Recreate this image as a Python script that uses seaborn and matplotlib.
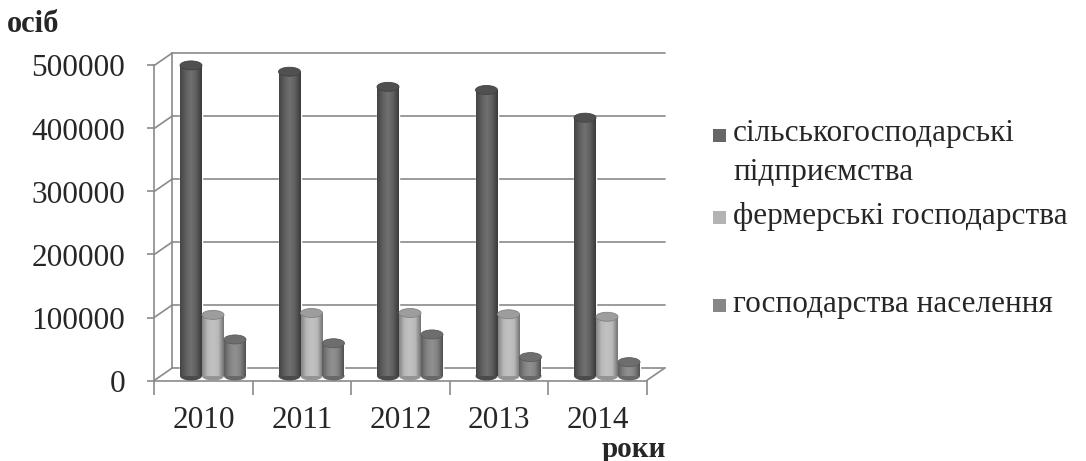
#!/usr/bin/env python3
"""
3D-style clustered column chart: workers by type of farm, 2010-2014
"""

import matplotlib
matplotlib.use("Agg")
import matplotlib.pyplot as plt
import seaborn as sns
import numpy as np
import pandas as pd
from matplotlib.patches import Ellipse, Rectangle
from matplotlib.colors import LinearSegmentedColormap, to_rgb

# data
years = ['2010', '2011', '2012', '2013', '2014']
series = ['сільськогосподарські\nпідприємства', 'фермерські господарства', 'господарства населення']
agri_enterprises = [493000, 483000, 459000, 454000, 410000]
farms = [97000, 100000, 100000, 98000, 94000]
households = [58000, 52000, 66000, 30000, 22000]
y_ticks = [0, 100000, 200000, 300000, 400000, 500000]
colors = ['#5e5e5e', '#b9b9b9', '#828282']
legend_colors = ['#666666', '#b3b3b3', '#878787']

sns.set_style("white")
plt.rcParams['font.family'] = ['Liberation Serif', 'DejaVu Serif']

df = pd.DataFrame({
    'year': years * 3,
    'type': [s for s in series for _ in years],
    'value': agri_enterprises + farms + households,
})

W, H = 1086, 461
fig = plt.figure(figsize=(W / 100, H / 100), dpi=100)

# axes box in pixels (left, top, right, bottom) and pixel scale of the bar plane
box = (140, 40, 680, 400)
x0_px, base_px = 213.0, 376.0        # centre of first group, floor of bars
px_per_cat, px_per_val = 98.5, 63.0 / 100000
ax = fig.add_axes([box[0] / W, 1 - box[3] / H, (box[2] - box[0]) / W, (box[3] - box[1]) / H])

sns.barplot(data=df, x='year', y='value', hue='type', palette=colors,
            width=0.67, gap=0, saturation=1, legend=False, ax=ax, zorder=3)

ax.set_xlim((box[0] - x0_px) / px_per_cat, (box[2] - x0_px) / px_per_cat)
ax.set_ylim((base_px - box[3]) / px_per_val, (base_px - box[1]) / px_per_val)


def dx(px):
    return px / px_per_cat


def dy(px):
    return px / px_per_val


# 3D frame: front plane and back wall offsets relative to the bar plane
front_dx, front_dy = dx(-9.6), dy(-4.5)
back_dx, back_dy = dx(8.5), dy(8.0)
n = len(years)
grid_kw = dict(color='#8a8a8a', lw=1.2, clip_on=False, zorder=1)

xl_back, xr_back = -0.5 + back_dx, n - 0.5 + back_dx
xl_front, xr_front = -0.5 + front_dx, n - 0.5 + front_dx
for g in y_ticks:
    ax.plot([xl_back, xr_back], [g + back_dy, g + back_dy], **grid_kw)
    ax.plot([xl_front, xl_back], [g + front_dy, g + back_dy], **grid_kw)
ax.plot([xl_back, xl_back], [back_dy, y_ticks[-1] + back_dy], **grid_kw)
ax.plot([xr_front, xr_back], [front_dy, back_dy], **grid_kw)

# front axes through spines
for s in ['top', 'right']:
    ax.spines[s].set_visible(False)
ax.spines['left'].set_position(('data', xl_front))
ax.spines['left'].set_bounds(y_ticks[0] + front_dy, y_ticks[-1] + front_dy)
ax.spines['bottom'].set_position(('data', front_dy))
ax.spines['bottom'].set_bounds(xl_front, xr_front)
for s in ['left', 'bottom']:
    ax.spines[s].set_color('#8a8a8a')
    ax.spines[s].set_linewidth(1.2)

ax.set_yticks([g + front_dy for g in y_ticks], [str(g) for g in y_ticks])
ax.tick_params(axis='y', direction='out', length=5, width=1.2, color='#8a8a8a',
               labelsize=22.5, pad=16, left=True)
ax.set_xticks([i + front_dx for i in range(n)], years)
ax.set_xticks([i - 0.5 + front_dx for i in range(n + 1)], minor=True)
ax.tick_params(axis='x', which='major', length=0, labelsize=22.5, pad=18)
ax.tick_params(axis='x', which='minor', direction='out', length=10, width=1.2,
               color='#8a8a8a', bottom=True)
ax.set_xlabel('')
ax.set_ylabel('')


# cylinder shading
def shade(c, k):
    c = np.array(to_rgb(c))
    return tuple(c * k) if k < 1 else tuple(c + (1 - c) * (k - 1))


cap_h = dy(9)
for bar in list(ax.patches):
    if not isinstance(bar, Rectangle) or bar.get_height() <= 0:
        continue
    c = bar.get_facecolor()
    x, w, h = bar.get_x(), bar.get_width(), bar.get_height()
    cmap = LinearSegmentedColormap.from_list(
        'cyl', [shade(c, 0.72), shade(c, 1.0), shade(c, 1.12), shade(c, 1.0), shade(c, 0.62)])
    grad = np.linspace(0, 1, 64).reshape(1, -1)
    im = ax.imshow(grad, cmap=cmap, aspect='auto', extent=[x, x + w, 0, h],
                   zorder=4, interpolation='bicubic')
    im.set_clip_path(bar)
    ax.add_patch(Ellipse((x + w / 2, 0), w, cap_h, facecolor=shade(c, 0.8),
                         edgecolor='none', zorder=3.5))
    ax.add_patch(Ellipse((x + w / 2, h), w, cap_h, facecolor=shade(c, 0.85),
                         edgecolor=shade(c, 0.7), lw=0.6, zorder=5))

ax.set_xlim((box[0] - x0_px) / px_per_cat, (box[2] - x0_px) / px_per_cat)
ax.set_ylim((base_px - box[3]) / px_per_val, (base_px - box[1]) / px_per_val)

# axis titles
fig.text(7 / W, 1 - 24 / H, 'осіб', fontsize=22, fontweight='bold', va='center', ha='left')
fig.text(634 / W, 1 - 449 / H, 'роки', fontsize=21, fontweight='bold', va='center', ha='center')

# legend
legend_y = [[134, 172], [216], [304]]
labels = ['сільськогосподарські\nпідприємства', 'фермерські господарства', 'господарства населення']
for col, lab, ys in zip(legend_colors, labels, legend_y):
    fig.patches.append(Rectangle((713 / W, 1 - (ys[0] + 8) / H), 13 / W, 13 / H,
                                 transform=fig.transFigure, facecolor=col, edgecolor='none'))
    for line, yy in zip(lab.split('\n'), ys):
        fig.text(733 / W, 1 - yy / H, line, fontsize=22.5, va='center', ha='left')

plt.savefig('out.png', dpi=100)
plt.close()
print("saved out.png")
